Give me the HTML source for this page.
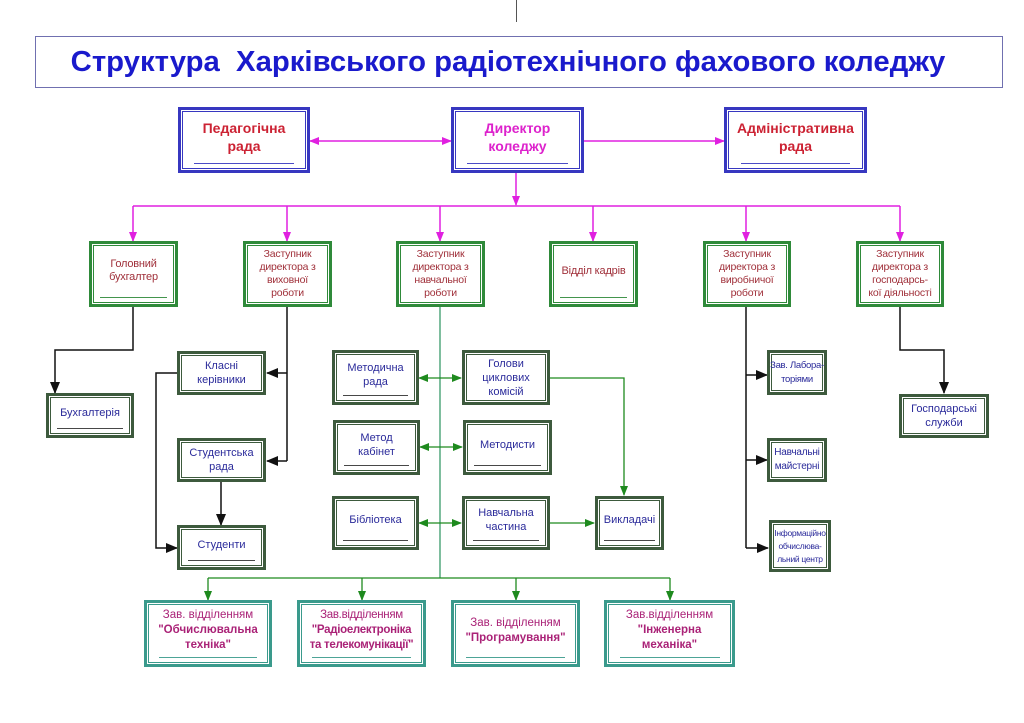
<!DOCTYPE html>
<html><head><meta charset="utf-8"><style>
body{margin:0;width:1024px;height:723px;background:#fff;position:relative;overflow:hidden;font-family:"Liberation Sans",Arial,sans-serif}
.b{position:absolute;box-sizing:border-box;background:#fff;display:flex;align-items:center;justify-content:center;text-align:center;font-size:11px;line-height:14px;padding-bottom:6px;white-space:nowrap}
.b>span{display:block}
.b::after{content:"";position:absolute;left:10%;right:10%;bottom:6px;height:1.5px;background:currentColor;opacity:.9}
.top{border:3px solid #3737c0;box-shadow:inset 0 0 0 1px #fff,inset 0 0 0 2px #3737c0;color:#cc2233;font-weight:bold;font-size:14px;line-height:18px}
.top::after{background:#3737c0}
.l2{border:3px solid #2f8a3a;box-shadow:inset 0 0 0 1px #fff,inset 0 0 0 2px #2f8a3a;color:#a0303a;font-size:10.5px;line-height:13px;letter-spacing:-0.2px}
.l2::after{background:#2f8a3a}
.md{border:3px solid #3d5a3d;box-shadow:inset 0 0 0 1px #fff,inset 0 0 0 2px #3d5a3d;color:#2a2a9a}
.md::after{background:#333}
.bt{border:3px solid #3a9a8c;box-shadow:inset 0 0 0 1px #fff,inset 0 0 0 2px #3a9a8c;color:#aa2277;font-size:11.5px;line-height:15px}
.bt::after{background:#3a9a8c}
.nou::after{display:none}
.nou{padding-bottom:0}
</style></head><body>
<div style="position:absolute;left:516px;top:0;width:1px;height:22px;background:#555"></div>
<div style="position:absolute;left:35px;top:36px;width:968px;height:52px;box-sizing:border-box;border:1px solid #7070b0;display:flex;align-items:center;justify-content:center;padding-right:22px;color:#1a1acc;font-weight:bold;font-size:29px;white-space:nowrap"><span style="display:inline-block;transform:scaleX(1.01)">Структура&nbsp; Харківського радіотехнічного фахового коледжу</span></div>
<svg width="1024" height="723" style="position:absolute;left:0;top:0">
<defs>
<marker id="m" markerWidth="10" markerHeight="10" refX="9" refY="5" orient="auto" markerUnits="userSpaceOnUse"><path d="M0,1L10,5L0,9z" fill="#e020e0"/></marker>
<marker id="ms" markerWidth="10" markerHeight="10" refX="1" refY="5" orient="auto" markerUnits="userSpaceOnUse"><path d="M10,1L0,5L10,9z" fill="#e020e0"/></marker>
<marker id="k" markerWidth="12" markerHeight="12" refX="11" refY="6" orient="auto" markerUnits="userSpaceOnUse"><path d="M0,1L12,6L0,11z" fill="#111"/></marker>
<marker id="g" markerWidth="10" markerHeight="10" refX="9" refY="5" orient="auto" markerUnits="userSpaceOnUse"><path d="M0,1L10,5L0,9z" fill="#1e8a1e"/></marker>
<marker id="gs" markerWidth="10" markerHeight="10" refX="1" refY="5" orient="auto" markerUnits="userSpaceOnUse"><path d="M10,1L0,5L10,9z" fill="#1e8a1e"/></marker>
</defs>
<g stroke="#e020e0" stroke-width="1.5" fill="none">
<line x1="310" y1="141" x2="451" y2="141" marker-start="url(#ms)" marker-end="url(#m)"/>
<line x1="584" y1="141" x2="724" y2="141" marker-end="url(#m)"/>
<line x1="516" y1="173" x2="516" y2="205" marker-end="url(#m)"/>
<line x1="133" y1="206" x2="900" y2="206"/>
<line x1="133" y1="206" x2="133" y2="241" marker-end="url(#m)"/>
<line x1="287" y1="206" x2="287" y2="241" marker-end="url(#m)"/>
<line x1="440" y1="206" x2="440" y2="241" marker-end="url(#m)"/>
<line x1="593" y1="206" x2="593" y2="241" marker-end="url(#m)"/>
<line x1="746" y1="206" x2="746" y2="241" marker-end="url(#m)"/>
<line x1="900" y1="206" x2="900" y2="241" marker-end="url(#m)"/>
</g>
<g stroke="#111" stroke-width="1.5" fill="none">
<polyline points="133,307 133,350 55,350 55,393" marker-end="url(#k)"/>
<line x1="287" y1="307" x2="287" y2="461"/>
<line x1="287" y1="373" x2="267" y2="373" marker-end="url(#k)"/>
<line x1="287" y1="461" x2="267" y2="461" marker-end="url(#k)"/>
<line x1="221" y1="482" x2="221" y2="525" marker-end="url(#k)"/>
<polyline points="177,373 156,373 156,548 177,548" marker-end="url(#k)"/>
<line x1="746" y1="307" x2="746" y2="548"/>
<line x1="746" y1="375" x2="767" y2="375" marker-end="url(#k)"/>
<line x1="746" y1="460" x2="767" y2="460" marker-end="url(#k)"/>
<line x1="746" y1="548" x2="768" y2="548" marker-end="url(#k)"/>
<polyline points="900,307 900,350 944,350 944,393" marker-end="url(#k)"/>
</g>
<g stroke="#1e8a1e" stroke-width="1.3" fill="none">
<line x1="440" y1="307" x2="440" y2="578" stroke="#3a9a6a"/>
<line x1="208" y1="578" x2="670" y2="578"/>
<line x1="208" y1="578" x2="208" y2="600" marker-end="url(#g)"/>
<line x1="362" y1="578" x2="362" y2="600" marker-end="url(#g)"/>
<line x1="516" y1="578" x2="516" y2="600" marker-end="url(#g)"/>
<line x1="670" y1="578" x2="670" y2="600" marker-end="url(#g)"/>
<line x1="419" y1="378" x2="461" y2="378" marker-start="url(#gs)" marker-end="url(#g)"/>
<line x1="420" y1="447" x2="462" y2="447" marker-start="url(#gs)" marker-end="url(#g)"/>
<line x1="419" y1="523" x2="461" y2="523" marker-start="url(#gs)" marker-end="url(#g)"/>
<polyline points="550,378 624,378 624,495" marker-end="url(#g)"/>
<line x1="550" y1="523" x2="594" y2="523" marker-end="url(#g)"/>
</g>
</svg>
<div class="b top" style="left:178px;top:107px;width:132px;height:66px"><span>Педагогічна<br>рада</span></div>
<div class="b top" style="left:451px;top:107px;width:133px;height:66px;color:#dd22cc"><span>Директор<br>коледжу</span></div>
<div class="b top" style="left:724px;top:107px;width:143px;height:66px"><span>Адміністративна<br>рада</span></div>

<div class="b l2" style="left:89px;top:241px;width:89px;height:66px;font-size:11px"><span>Головний<br>бухгалтер</span></div>
<div class="b l2 nou" style="left:243px;top:241px;width:89px;height:66px"><span>Заступник<br>директора з<br>виховної<br>роботи</span></div>
<div class="b l2 nou" style="left:396px;top:241px;width:89px;height:66px"><span>Заступник<br>директора з<br>навчальної<br>роботи</span></div>
<div class="b l2" style="left:549px;top:241px;width:89px;height:66px;font-size:11px"><span>Відділ кадрів</span></div>
<div class="b l2 nou" style="left:703px;top:241px;width:88px;height:66px"><span>Заступник<br>директора з<br>виробничої<br>роботи</span></div>
<div class="b l2 nou" style="left:856px;top:241px;width:88px;height:66px"><span>Заступник<br>директора з<br>господарсь-<br>кої діяльності</span></div>

<div class="b md" style="left:46px;top:393px;width:88px;height:45px"><span>Бухгалтерія</span></div>
<div class="b md nou" style="left:177px;top:351px;width:89px;height:44px"><span>Класні<br>керівники</span></div>
<div class="b md nou" style="left:177px;top:438px;width:89px;height:44px"><span>Студентська<br>рада</span></div>
<div class="b md" style="left:177px;top:525px;width:89px;height:45px"><span>Студенти</span></div>

<div class="b md" style="left:332px;top:350px;width:87px;height:55px"><span>Методична<br>рада</span></div>
<div class="b md nou" style="left:462px;top:350px;width:88px;height:55px"><span>Голови<br>циклових<br>комісій</span></div>
<div class="b md" style="left:333px;top:420px;width:87px;height:55px"><span>Метод<br>кабінет</span></div>
<div class="b md" style="left:463px;top:420px;width:89px;height:55px"><span>Методисти</span></div>
<div class="b md" style="left:332px;top:496px;width:87px;height:54px"><span>Бібліотека</span></div>
<div class="b md" style="left:462px;top:496px;width:88px;height:54px"><span>Навчальна<br>частина</span></div>
<div class="b md" style="left:595px;top:496px;width:69px;height:54px"><span>Викладачі</span></div>

<div class="b md nou" style="left:767px;top:350px;width:60px;height:45px;font-size:9.5px;line-height:14px;letter-spacing:-0.3px"><span>Зав. Лабора-<br>торіями</span></div>
<div class="b md nou" style="left:767px;top:438px;width:60px;height:44px;font-size:10px;line-height:14px;letter-spacing:-0.2px"><span>Навчальні<br>майстерні</span></div>
<div class="b md nou" style="left:769px;top:520px;width:62px;height:52px;font-size:8.5px;line-height:13px;letter-spacing:-0.3px"><span>Інформаційно<br>обчислюва-<br>льний центр</span></div>
<div class="b md nou" style="left:899px;top:394px;width:90px;height:44px"><span>Господарські<br>служби</span></div>

<div class="b bt" style="left:144px;top:600px;width:128px;height:67px"><span>Зав. відділенням<br><b>"Обчислювальна<br>техніка"</b></span></div>
<div class="b bt" style="left:297px;top:600px;width:129px;height:67px;letter-spacing:-0.3px"><span>Зав.відділенням<br><b>"Радіоелектроніка<br>та телекомунікації"</b></span></div>
<div class="b bt" style="left:451px;top:600px;width:129px;height:67px"><span>Зав. відділенням<br><b>"Програмування"</b></span></div>
<div class="b bt" style="left:604px;top:600px;width:131px;height:67px"><span>Зав.відділенням<br><b>"Інженерна<br>механіка"</b></span></div>
</body></html>
